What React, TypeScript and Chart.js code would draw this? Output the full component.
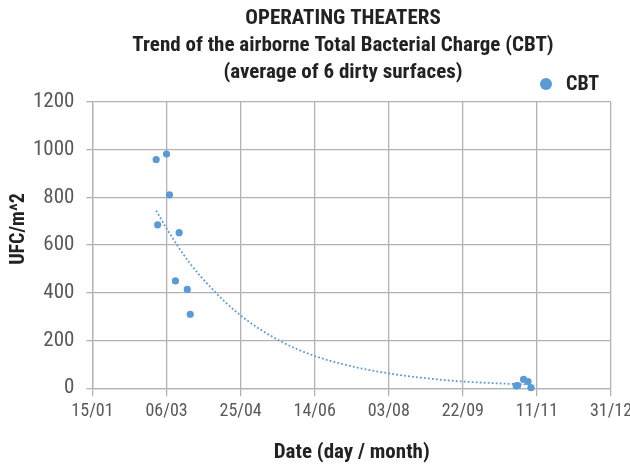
import React, { useEffect, useRef } from "react";
import { Chart, registerables } from "chart.js";

Chart.register(...registerables);

const seriesName = "CBT";
// x = day of year (15 = 15/01, 365 = 31/12)
const cbtDays = [58, 65, 67, 59, 73.5, 71, 79, 81, 301, 302, 306, 309, 311];
const cbtValues = [959, 982, 811, 685, 652, 450, 414, 310, 10, 11, 37, 28, 2];

const trendDays = [58, 65, 80, 96, 115, 141, 165, 190, 215, 240, 265, 290, 311];
const trendValues = [745, 670, 530, 415, 305, 200, 135, 92, 62, 42, 28, 20, 15];

const xTickDays = [15, 65, 115, 165, 215, 265, 315, 365];
const xTickLabels = ["15/01", "06/03", "25/04", "14/06", "03/08", "22/09", "11/11", "31/12"];
const yTicks = [0, 200, 400, 600, 800, 1000, 1200];

const titleLines = [
  "OPERATING THEATERS",
  "Trend of the airborne Total Bacterial Charge (CBT)",
  "(average of 6 dirty surfaces)",
];
const xTitle = "Date (day / month)";
const yTitle = "UFC/m^2";

const FONT = "'Roboto Condensed', 'Liberation Sans Narrow', 'Arial Narrow', Roboto, sans-serif";
const BLUE = "#5b9bd5";
const DARK = "#222222";
const GRID = "#b3b3b3";
const TICK = "#595959";

const overlay = {
  id: "overlay",
  afterDraw(chart: any) {
    const ctx = chart.ctx;
    ctx.save();
    ctx.fillStyle = DARK;
    ctx.textAlign = "center";
    ctx.textBaseline = "middle";
    ctx.font = `bold 21px ${FONT}`;
    titleLines.forEach((t, i) => ctx.fillText(t, 343, 19 + i * 27));
    // legend
    ctx.fillStyle = chart.data.datasets[0].backgroundColor;
    ctx.beginPath();
    ctx.arc(546, 84, 6, 0, Math.PI * 2);
    ctx.fill();
    ctx.fillStyle = DARK;
    ctx.textAlign = "left";
    ctx.font = `bold 20px ${FONT}`;
    ctx.fillText(chart.data.datasets[0].label, 566, 85);
    // y axis title
    ctx.save();
    ctx.translate(19, 229);
    ctx.rotate(-Math.PI / 2);
    ctx.textAlign = "center";
    ctx.font = `bold 20px ${FONT}`;
    ctx.fillText(yTitle, 0, 0);
    ctx.restore();
    ctx.restore();
  },
};

export default function App() {
  const ref = useRef<HTMLCanvasElement>(null);
  useEffect(() => {
    if (!ref.current) return;
    const chart = new Chart(ref.current, {
      type: "scatter",
      data: {
        datasets: [
          {
            label: seriesName,
            data: cbtDays.map((d, i) => ({ x: d, y: cbtValues[i] })),
            backgroundColor: BLUE,
            borderColor: BLUE,
            borderWidth: 0,
            pointRadius: 3.6,
            clip: false,
            order: 1,
          },
          {
            label: "trend",
            data: trendDays.map((d, i) => ({ x: d, y: trendValues[i] })),
            showLine: true,
            borderColor: BLUE,
            borderWidth: 1.8,
            borderDash: [1.8, 2.2],
            pointRadius: 0,
            cubicInterpolationMode: "monotone",
            fill: false,
            order: 2,
          } as any,
        ],
      },
      options: {
        animation: false,
        responsive: true,
        maintainAspectRatio: false,
        layout: { padding: { top: 102, right: 0, bottom: 1, left: 21 } },
        plugins: {
          legend: { display: false },
          title: { display: false },
          tooltip: { enabled: false },
        },
        scales: {
          x: {
            type: "linear",
            min: 15,
            max: 365,
            afterBuildTicks: (axis: any) => {
              axis.ticks = xTickDays.map((v) => ({ value: v }));
            },
            afterFit: (axis: any) => {
              axis.paddingRight = 19;
              axis.paddingLeft = 0;
            },
            ticks: {
              callback: (v: any) => {
                const i = xTickDays.indexOf(Number(v));
                return i >= 0 ? xTickLabels[i] : "";
              },
              color: TICK,
              font: { family: FONT, size: 18 },
              padding: 4,
              maxRotation: 0,
            },
            grid: { color: GRID, lineWidth: 1.3, tickLength: 8 },
            border: { color: GRID, width: 1.3 },
            title: {
              display: true,
              text: xTitle,
              color: DARK,
              font: { family: FONT, size: 21, weight: "bold" },
              padding: { top: 14, bottom: 0 },
            },
          },
          y: {
            min: 0,
            max: 1200,
            afterBuildTicks: (axis: any) => {
              axis.ticks = yTicks.map((v) => ({ value: v }));
            },
            ticks: {
              callback: (v: any) => String(v),
              color: TICK,
              font: { family: FONT, size: 21 },
              padding: 12,
            },
            grid: { color: GRID, lineWidth: 1.3, tickLength: 6 },
            border: { color: GRID, width: 1.3 },
            title: { display: false },
          },
        },
      },
      plugins: [overlay],
    });
    return () => chart.destroy();
  }, []);
  return (
    <div style={{ position: "absolute", left: 0, top: 0, width: 630, height: 466 }}>
      <canvas ref={ref} />
    </div>
  );
}
